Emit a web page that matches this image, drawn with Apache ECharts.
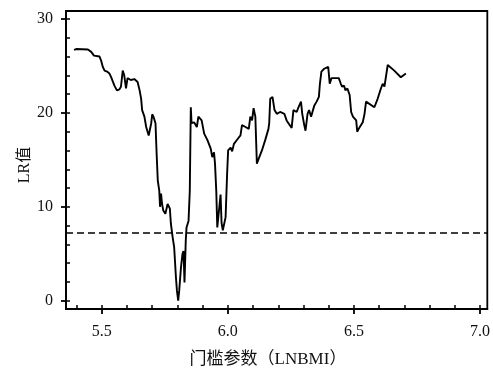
<!DOCTYPE html>
<html>
<head>
<meta charset="utf-8">
<script src="https://cdn.jsdelivr.net/npm/echarts@6/dist/echarts.min.js"></script>
<style>html,body{margin:0;padding:0;background:#fff}#c{width:493px;height:372px}</style>
</head>
<body>
<div id="c"></div>
<script>
var xValues = [5.390,5.399,5.445,5.458,5.469,5.491,5.497,5.504,5.511,5.521,5.530,5.537,5.550,5.560,5.570,5.576,5.583,5.589,5.596,5.602,5.615,5.629,5.642,5.650,5.656,5.660,5.669,5.676,5.686,5.692,5.696,5.700,5.705,5.713,5.715,5.718,5.722,5.728,5.731,5.735,5.739,5.744,5.752,5.761,5.765,5.770,5.774,5.781,5.787,5.794,5.798,5.803,5.807,5.814,5.820,5.824,5.828,5.833,5.836,5.844,5.849,5.853,5.856,5.859,5.866,5.873,5.877,5.883,5.889,5.896,5.906,5.919,5.932,5.938,5.945,5.949,5.954,5.958,5.965,5.971,5.975,5.980,5.985,5.991,5.997,6.001,6.011,6.017,6.024,6.030,6.041,6.050,6.056,6.070,6.083,6.089,6.096,6.102,6.109,6.115,6.122,6.135,6.148,6.161,6.164,6.168,6.177,6.185,6.194,6.207,6.224,6.233,6.240,6.253,6.260,6.267,6.273,6.280,6.286,6.290,6.295,6.303,6.308,6.316,6.322,6.330,6.335,6.343,6.352,6.361,6.365,6.371,6.382,6.398,6.404,6.411,6.440,6.448,6.453,6.461,6.466,6.474,6.483,6.489,6.496,6.503,6.509,6.513,6.519,6.535,6.542,6.548,6.581,6.594,6.607,6.614,6.621,6.634,6.660,6.686,6.706];
var lrValues = [26.7,26.8,26.75,26.5,26.1,26.0,25.6,24.9,24.5,24.4,24.2,23.8,22.9,22.4,22.5,22.8,24.5,24.0,22.6,23.7,23.5,23.6,23.3,22.4,21.5,20.3,19.6,18.5,17.6,17.8,18.9,19.85,19.6,18.9,17.4,15.3,12.8,11.7,10.0,11.4,10.3,9.6,9.25,10.3,10.5,9.8,8.2,6.75,5.7,2.5,1.07,0.0,1.07,3.55,5.0,5.3,1.95,6.4,7.8,8.5,11.7,20.6,18.9,18.9,19.0,19.2,18.5,19.6,19.7,19.2,17.8,17.1,16.2,15.3,15.8,14.6,11.7,7.8,7.8,11.3,8.3,7.5,7.5,8.9,13.5,16.0,16.3,15.9,16.7,16.5,17.3,17.6,18.7,18.5,18.3,19.6,19.2,20.5,19.6,14.6,15.1,16.0,17.1,18.3,18.9,21.5,21.7,20.3,19.9,20.1,19.9,19.2,19.0,18.4,20.3,20.5,20.1,20.6,20.5,21.2,19.9,18.7,18.1,19.9,20.3,19.6,19.6,20.8,21.2,21.7,23.1,24.4,24.7,24.9,23.1,23.7,23.7,23.1,22.8,22.9,22.4,22.6,21.9,20.1,19.6,19.4,19.2,18.0,18.3,19.0,19.9,21.2,20.6,21.5,22.6,23.1,22.8,25.1,24.5,23.8,24.2];
var threshold = 7.26;
var xMajorTicks = [5.5, 6.0, 6.5, 7.0];
var xMinorTicks = [5.4,5.5,5.6,5.7,5.8,5.9,6.0,6.1,6.2,6.3,6.4,6.5,6.6,6.7,6.8,6.9,7.0];
var yMajorTicks = [0, 10, 20, 30];
var yMinorTicks = [0,2,4,6,8,10,12,14,16,18,20,22,24,26,28,30];
var xName = '门槛参数（LNBMI）';
var yName = 'LR值';

var points = xValues.map(function (x, i) { return [x, lrValues[i]]; });
var serif = "'Liberation Serif','Times New Roman','Noto Sans CJK SC',serif";
var chart = echarts.init(document.getElementById('c'), null, {renderer: 'canvas'});
var xMin = 5.358, xMax = 7.029, yMin = -0.88, yMax = 30.85;
chart.setOption({
  animation: false,
  backgroundColor: '#fff',
  grid: {left: 66, top: 11, width: 424.7, height: 298, show: true, borderColor: '#000', borderWidth: 1.8, backgroundColor: 'transparent'},
  xAxis: [{
    type: 'value', min: xMin, max: xMax, position: 'bottom',
    axisLine: {show: true, onZero: false, lineStyle: {color: '#000', width: 1.8}},
    axisTick: {show: true, inside: false, length: 5, customValues: xMajorTicks, lineStyle: {color: '#000', width: 1.8}},
    axisLabel: {show: true, customValues: xMajorTicks, margin: 15, color: '#111', fontSize: 16, fontFamily: serif, formatter: function (v) { return v.toFixed(1); }},
    splitLine: {show: false}
  }, {
    type: 'value', min: xMin, max: xMax, position: 'bottom',
    axisLine: {show: false, onZero: false},
    axisTick: {show: true, inside: true, length: 4, customValues: xMinorTicks, lineStyle: {color: '#000', width: 1.5}},
    axisLabel: {show: false},
    splitLine: {show: false}
  }],
  yAxis: [{
    type: 'value', min: yMin, max: yMax, position: 'left',
    axisLine: {show: true, onZero: false, lineStyle: {color: '#000', width: 1.8}},
    axisTick: {show: true, inside: false, length: 5, customValues: yMajorTicks, lineStyle: {color: '#000', width: 1.8}},
    axisLabel: {show: true, customValues: yMajorTicks, margin: 13, color: '#111', fontSize: 16, fontFamily: serif},
    splitLine: {show: false}
  }, {
    type: 'value', min: yMin, max: yMax, position: 'left',
    axisLine: {show: false, onZero: false},
    axisTick: {show: true, inside: true, length: 4, customValues: yMinorTicks, lineStyle: {color: '#000', width: 1.5}},
    axisLabel: {show: false},
    splitLine: {show: false}
  }],
  graphic: [{
    type: 'text', x: 268, y: 360,
    style: {text: xName, font: "17px " + serif, fill: '#111', textAlign: 'center', textVerticalAlign: 'middle'}
  }, {
    type: 'text', x: 25, y: 165, rotation: Math.PI / 2,
    style: {text: yName, font: "16px " + serif, fill: '#111', textAlign: 'center', textVerticalAlign: 'middle'}
  }],
  series: [{
    type: 'line', xAxisIndex: 0, yAxisIndex: 0, data: points, showSymbol: false, symbol: 'none',
    lineStyle: {color: '#000', width: 1.9},
    markLine: {silent: true, symbol: 'none', label: {show: false},
      lineStyle: {color: '#000', type: [7, 4], width: 1.7},
      data: [{yAxis: threshold}]}
  }]
});
</script>
</body>
</html>
